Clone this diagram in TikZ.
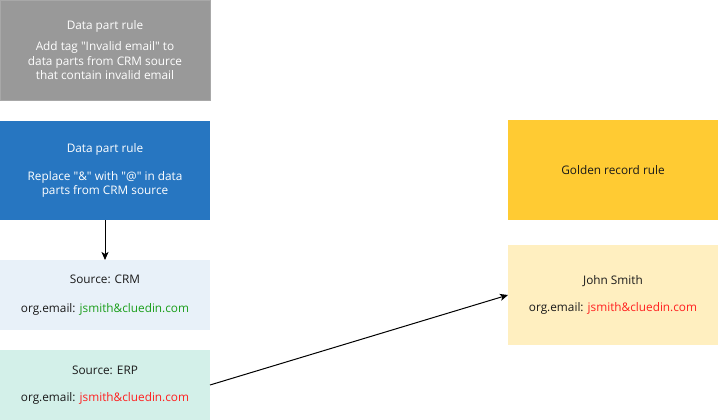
\documentclass[tikz,border=0pt]{standalone}
\usepackage{fontspec}
\setmainfont{Open Sans}[Ligatures=TeXOff]
\usetikzlibrary{arrows.meta}

\definecolor{rulegray}{HTML}{999999}
\definecolor{ruleblue}{HTML}{2776C1}
\definecolor{crmfill}{HTML}{E8F1F9}
\definecolor{erpfill}{HTML}{D3F0E9}
\definecolor{goldfill}{HTML}{FFCB33}
\definecolor{recfill}{HTML}{FFEFC0}
\definecolor{txt}{HTML}{1A1A1A}
\definecolor{okgreen}{HTML}{1A9E1A}
\definecolor{badred}{HTML}{FF2020}

\begin{document}
\begin{tikzpicture}[x=1pt,y=-1pt,
  box node/.style={rectangle,minimum width=210pt,inner sep=0pt,outer sep=0pt,align=center,
    font=\fontsize{11.8}{14.5}\selectfont,text=txt},
  rule node/.style={box node,text=white},
  flow/.style={line width=1pt,-{Stealth[length=8pt,width=7pt,inset=2pt]}}]

\useasboundingbox (0,0) rectangle (718,420);

\node[rule node,fill=rulegray,draw=rulegray!85!white,minimum height=100pt] (n0) at (105,50)
  {Data part rule\\[7pt]Add tag "Invalid email" to\\data parts from CRM source\\that contain invalid email};
\node[rule node,fill=ruleblue,minimum height=99pt] (n1) at (105,170.5)
  {Data part rule\\[13pt]Replace "\&" with "@" in data\\parts from CRM source};
\node[box node,fill=crmfill,minimum height=70pt] (n2) at (105,295)
  {Source: CRM\\[15pt]org.email: \textcolor{okgreen}{jsmith\&cluedin.com}};
\node[box node,fill=erpfill,minimum height=70pt] (n3) at (105,385)
  {Source: ERP\\[13pt]org.email: \textcolor{badred}{jsmith\&cluedin.com}};
\node[box node,fill=goldfill,minimum height=100pt] (n4) at (613,170)
  {Golden record rule};
\node[box node,fill=recfill,minimum height=100pt] (n5) at (613,295)
  {John Smith\\[13pt]org.email: \textcolor{badred}{jsmith\&cluedin.com}};

\path[](n1) [flow] edge node [] {} (n2);
\path[](n3.east) [flow] edge node [] {} (n5.west);
\end{tikzpicture}
\end{document}
